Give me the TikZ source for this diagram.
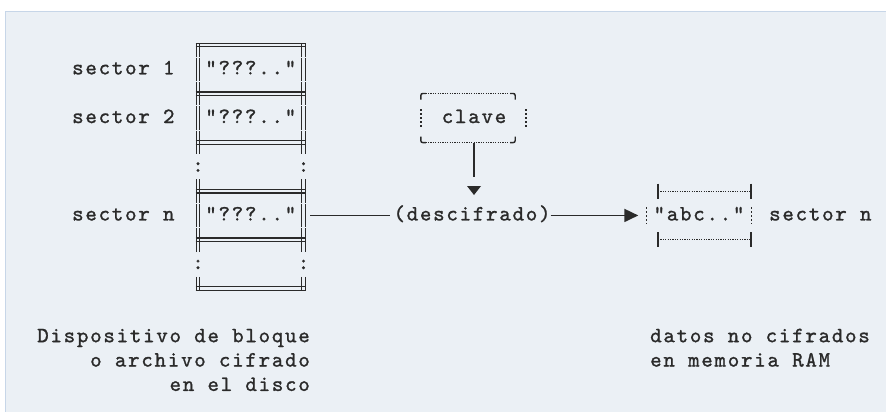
\documentclass[tikz,border=0pt]{standalone}
\usepackage{fontspec}
\newfontfamily\asciifont[LetterSpace=8.2, FakeBold=1.2]{lmmono10-regular.otf}
\usetikzlibrary{arrows.meta}
\definecolor{panel}{HTML}{EBF0F5}
\definecolor{rim}{HTML}{C7D6E8}
\definecolor{ink}{HTML}{2A2A2A}
\tikzset{
  txt/.style={font={\asciifont\fontsize{21.8}{24.4}\selectfont}, text=ink,
    inner sep=0pt, text height=15pt, text depth=5pt},
  cell/.style={txt, minimum width=105.5pt},
  wall/.style={draw=ink, line width=1.3pt},
  rule/.style={draw=ink, line width=1.8pt},
  fine/.style={draw=ink, line width=1.1pt, dash pattern=on 1.2pt off 1.2pt},
  bar/.style={draw=ink, line width=1.5pt, dash pattern=on 2.2pt off 1.8pt},
}
\begin{document}
\begin{tikzpicture}[x=1pt, y=-1pt]
  \useasboundingbox (0,0) rectangle (886,412);
  \fill [panel] (5,11) rectangle (886,412);
  \draw [rim, line width=1.4pt] (5.7,412) -- (5.7,11.7) -- (886,11.7);

  \node [cell] (blk1) at (250.75,69.35) {"???.."};
  \node [cell] (blk2) at (250.75,118.05) {"???.."};
  \node [cell] (blkn) at (250.75,215.45) {"???.."};
  \node [txt, anchor=west] (lab1) at (72,69.35) {sector 1};
  \node [txt, anchor=west] (lab2) at (72,118.05) {sector 2};
  \node [txt, anchor=west] (labn) at (72,215.45) {sector n};
  \foreach \y/\n in {166.75/a, 264.15/b} {
    \node [txt] (skip\n-l) at (198,\y) {:};
    \node [txt] (skip\n-r) at (303.5,\y) {:};
  }
  \foreach \y in {45,93.7,142.4,191.1,239.8,288.5}
    \draw [wall] (195.7,\y-1.75) -- (305.8,\y-1.75) (195.7,\y+1.75) -- (305.8,\y+1.75);
  \foreach \t/\b in {43.25/56.7, 57.7/81, 82/105.4, 106.4/129.7, 130.7/154.1,
      179.4/202.8, 203.8/227.1, 228.1/251.5, 276.8/290.25}
    \draw [wall] (196.25,\t) -- (196.25,\b) (199.75,\t) -- (199.75,\b)
      (301.75,\t) -- (301.75,\b) (305.25,\t) -- (305.25,\b);

  \node [txt] (clave) at (474,118.05) {clave};
  \node [minimum width=94pt, minimum height=48.7pt, inner sep=0pt] (kbox) at (468,118.05) {};
  \draw [fine] (kbox.north west) -- (kbox.north east) (kbox.south west) -- (kbox.south east);
  \draw [rule, line width=1.4pt, rounded corners=2pt]
    ([xshift=5pt]kbox.north west) -- (kbox.north west) -- ([yshift=-6pt]kbox.north west)
    ([xshift=-5pt]kbox.north east) -- (kbox.north east) -- ([yshift=-6pt]kbox.north east)
    ([xshift=5pt]kbox.south west) -- (kbox.south west) -- ([yshift=6pt]kbox.south west)
    ([xshift=-5pt]kbox.south east) -- (kbox.south east) -- ([yshift=6pt]kbox.south east);
  \draw [bar] ([yshift=9pt]kbox.west) -- ([yshift=-9pt]kbox.west)
    ([xshift=11pt,yshift=9pt]kbox.east) -- ([xshift=11pt,yshift=-9pt]kbox.east);
  \coordinate (tipd) at (474,195);
  \draw [rule] (kbox.south -| tipd) -- ([yshift=18pt]tipd);
  \fill [ink] (tipd) -- ++(-7,-9) -- ++(14,0) -- cycle;

  \node [txt] (descif) at (472,215.45) {(descifrado)};
  \node [txt, minimum width=105pt] (dat) at (699,215.45) {"abc.."};
  \node [txt, anchor=west] (labr) at (769,215.45) {sector n};
  \draw [rule, shorten <=6.5pt, shorten >=3pt] (blkn) -- (descif);
  \draw [rule, -{Triangle[length=14pt,width=13pt]}, shorten >=8pt] (descif) -- (dat);
  \draw [bar] ([yshift=-2pt]dat.north west) -- ([yshift=2pt]dat.south west)
    ([yshift=-2pt]dat.north east) -- ([yshift=2pt]dat.south east);
  \foreach \y in {191.1,239.8} {
    \draw [fine] (658,\y) -- (751,\y);
    \draw [rule, line width=1.4pt] (658,\y-7.5) -- (658,\y+7.5) (751,\y-7.5) -- (751,\y+7.5);
  }

  \node [txt, anchor=east] (disk1) at (310,337.2) {Dispositivo de bloque};
  \node [txt, anchor=east] (disk2) at (310,361.55) {o archivo cifrado};
  \node [txt, anchor=east] (disk3) at (310,385.9) {en el disco};
  \node [txt, anchor=west] (ram1) at (650,337.2) {datos no cifrados};
  \node [txt, anchor=west] (ram2) at (650,361.55) {en memoria RAM};
\end{tikzpicture}
\end{document}
